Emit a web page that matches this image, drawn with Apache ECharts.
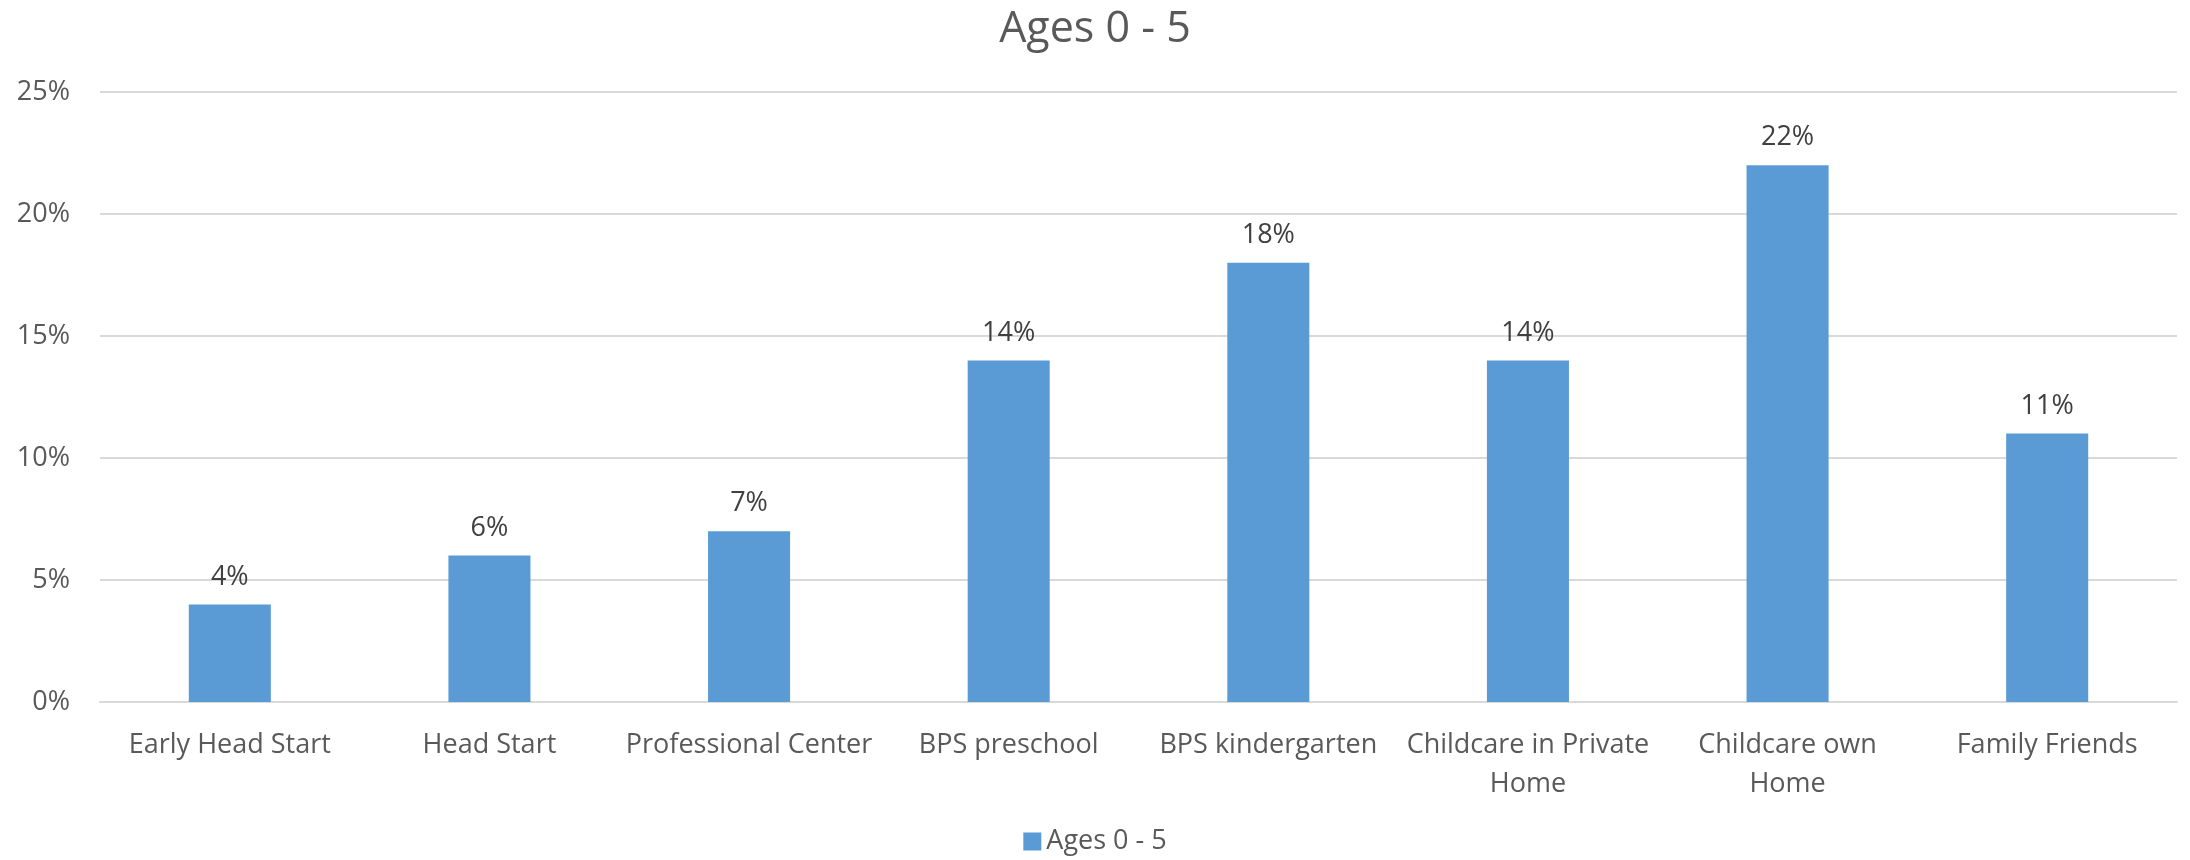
<!DOCTYPE html>
<html><head><meta charset="utf-8">
<script src="https://cdn.jsdelivr.net/npm/echarts@6/dist/echarts.min.js"></script>
<style>html,body{margin:0;padding:0;background:#fff}#c{width:2190px;height:860px}</style>
</head><body><div id="c"></div>
<script>
const categories = ['Early Head Start','Head Start','Professional Center','BPS preschool','BPS kindergarten','Childcare in Private\nHome','Childcare own\nHome','Family Friends'];
const values = [4,6,7,14,18,14,22,11];
const seriesName = 'Ages 0 - 5';
const yTicks = [0,5,10,15,20,25];
const FONT = '"Open Sans", sans-serif';
const chart = echarts.init(document.getElementById('c'));
chart.setOption({
  animation:false,
  title:{text:'Ages 0 - 5',left:'center',top:3,textStyle:{fontFamily:FONT,fontSize:43,fontWeight:'normal',color:'#595959'}},
  legend:{bottom:0,left:'center',itemWidth:18,itemHeight:18,itemGap:10,icon:'rect',textStyle:{fontFamily:FONT,fontSize:27,color:'#595959'},data:[seriesName]},
  grid:{left:100,right:13,top:92,bottom:158,containLabel:false},
  xAxis:{type:'category',data:categories,axisTick:{show:false},axisLine:{lineStyle:{color:'#D9D9D9',width:2}},
    axisLabel:{fontFamily:FONT,fontSize:27,color:'#595959',margin:24,lineHeight:39,interval:0}},
  yAxis:{type:'value',min:yTicks[0],max:yTicks[yTicks.length-1],interval:5,
    axisLine:{show:false},axisTick:{show:false},
    splitLine:{lineStyle:{color:'#D9D9D9',width:2}},
    axisLabel:{fontFamily:FONT,fontSize:27,color:'#595959',margin:30,formatter:v=>v+'%'}},
  series:[{name:seriesName,type:'bar',data:values,barWidth:'31.6%',itemStyle:{color:'#5B9BD5'},
    label:{show:true,position:'top',distance:14,fontFamily:FONT,fontSize:27,color:'#404040',formatter:p=>p.value+'%'}}]
});
</script></body></html>
